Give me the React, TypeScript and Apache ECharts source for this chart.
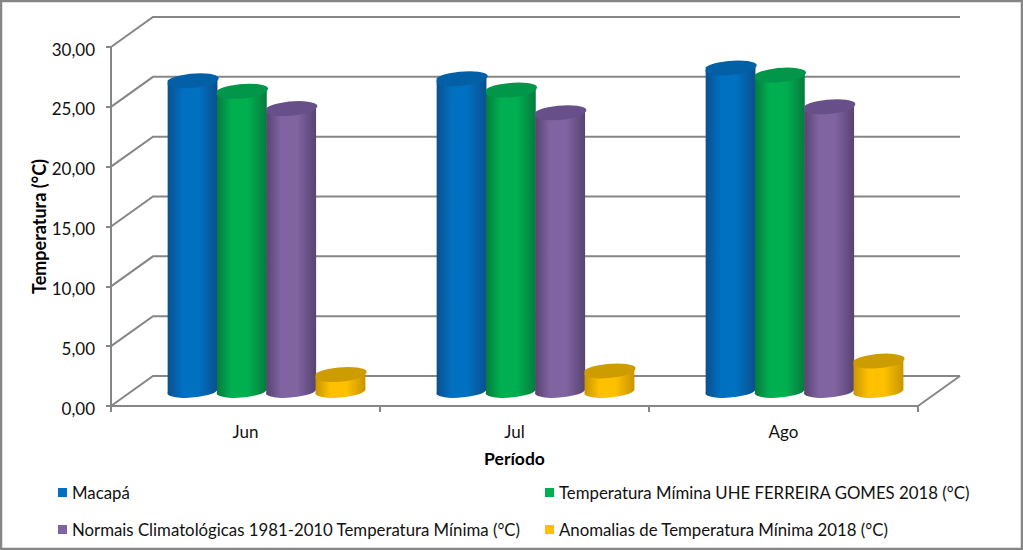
import React, { useEffect, useRef } from "react";
import * as echarts from "echarts";

const categories = ["Jun", "Jul", "Ago"];
const yTicks = [0, 5, 10, 15, 20, 25, 30];
const macapa = [25.87, 26.05, 26.95];
const ufg = [25.0, 25.1, 26.35];
const normais = [23.55, 23.2, 23.7];
const anomalias = [1.33, 1.63, 2.45];

const names = [
  "Macapá",
  "Temperatura Mímina UHE FERREIRA GOMES 2018 (°C)",
  "Normais Climatológicas 1981-2010 Temperatura Mínima (°C)",
  "Anomalias de Temperatura Mínima 2018 (°C)",
];
const seriesValues = [macapa, ufg, normais, anomalias];
const legendColors = ["#0070C0", "#00B050", "#8064A2", "#FFC000"];
const edgeColors = ["#0B4F8F", "#067A3E", "#574371", "#C79500"];
const topColors = ["#0460A6", "#01964A", "#67508A", "#CC9C00"];
const legendPos = [
  { left: 58, top: 484 },
  { left: 545, top: 484 },
  { left: 58, top: 521 },
  { left: 545, top: 521 },
];

const FONT = "Lato, 'Open Sans', sans-serif";
const GRID = "#868686";
const DX = 42, DY = 30;
const BAR_DY = 16;
const RX = 25, RY = 6.4, TILT = 5;
const STEP = 49.3;

function cylinder(i: number) {
  return (params: any, api: any) => {
    const cat = api.value(0);
    const val = api.value(1);
    const p = api.coord([cat, val]);
    const p0 = api.coord([cat, 0]);
    const cx = p[0] + DX / 2 + (i - 1.5) * STEP;
    const ty = p[1] - BAR_DY;
    const by = p0[1] - BAR_DY;
    const a = (TILT * Math.PI) / 180;
    const ex = RX * Math.cos(a), ey = RX * Math.sin(a);
    const arc = `A ${RX} ${RY} ${-TILT}`;
    const body = `M ${cx - ex} ${ty + ey} L ${cx - ex} ${by + ey} ${arc} 0 0 ${cx + ex} ${by - ey} L ${cx + ex} ${ty - ey} Z`;
    const top = `M ${cx - ex} ${ty + ey} ${arc} 0 0 ${cx + ex} ${ty - ey} ${arc} 0 0 ${cx - ex} ${ty + ey} Z`;
    const grad = new echarts.graphic.LinearGradient(0, 0, 1, 0, [
      { offset: 0, color: edgeColors[i] },
      { offset: 0.3, color: legendColors[i] },
      { offset: 0.62, color: legendColors[i] },
      { offset: 1, color: edgeColors[i] },
    ]);
    return {
      type: "group",
      children: [
        { type: "path", shape: { pathData: body }, style: { fill: grad } },
        { type: "path", shape: { pathData: top }, style: { fill: topColors[i] } },
      ],
    };
  };
}

function frame(params: any, api: any) {
  const v = api.value(1);
  const y = api.coord([0, v])[1];
  const cs = params.coordSys;
  const left = cs.x, right = cs.x + cs.width;
  const children: any[] = [
    {
      type: "polyline",
      shape: { points: [[left, y], [left + DX, y - DY], [right + DX, y - DY]] },
      style: { fill: "none", stroke: GRID, lineWidth: 2 },
    },
  ];
  if (v === 0) {
    children.push({
      type: "line",
      shape: { x1: right, y1: y, x2: right + DX, y2: y - DY },
      style: { stroke: GRID, lineWidth: 2 },
    });
  }
  return { type: "group", children };
}

export default function App() {
  const ref = useRef<HTMLDivElement>(null);
  useEffect(() => {
    document.body.style.margin = "0";
    const chart = echarts.init(ref.current!, undefined, { renderer: "svg" });
    chart.setOption({
      animation: false,
      backgroundColor: "#fff",
      grid: { left: 111, top: 47, width: 807, height: 359 },
      graphic: [
        {
          type: "rect",
          shape: { x: 1, y: 1, width: 1021, height: 548 },
          style: { fill: "none", stroke: GRID, lineWidth: 2.5 },
          silent: true,
        },
      ],
      xAxis: {
        type: "category",
        data: categories,
        name: "Período",
        nameLocation: "middle",
        nameGap: 43,
        nameMoveOverlap: false,
        nameTextStyle: { fontFamily: FONT, fontSize: 17.5, fontWeight: "bold", color: "#000" },
        axisLine: { lineStyle: { color: GRID, width: 2 } },
        axisTick: { show: true, length: 6, lineStyle: { color: GRID, width: 2 } },
        axisLabel: { fontFamily: FONT, fontSize: 17, color: "#111", margin: 17 },
      },
      yAxis: {
        type: "value",
        min: 0,
        max: 30,
        interval: 5,
        name: "Temperatura (°C)",
        nameLocation: "middle",
        nameGap: 63,
        nameMoveOverlap: false,
        nameTextStyle: { fontFamily: FONT, fontSize: 18, fontWeight: "bold", color: "#000" },
        axisLine: { show: true, lineStyle: { color: GRID, width: 2 } },
        axisTick: { show: true, length: 5, lineStyle: { color: GRID, width: 2 } },
        splitLine: { show: false },
        axisLabel: {
          fontFamily: FONT,
          fontSize: 17,
          color: "#111",
          margin: 16,
          verticalAlign: "top",
          lineHeight: 4,
          formatter: (v: number) => v.toFixed(2).replace(".", ","),
        },
      },
      legend: names.map((n, i) => ({
        data: [n],
        ...legendPos[i],
        padding: 0,
        icon: "rect",
        itemWidth: 9,
        itemHeight: 9,
        itemGap: 6,
        selectedMode: false,
        textStyle: { fontFamily: FONT, fontSize: 16.8, color: "#111" },
      })),
      series: [
        {
          type: "custom",
          name: "frame",
          renderItem: frame,
          clip: false,
          silent: true,
          z: 1,
          encode: { x: 0, y: 1 },
          data: yTicks.map((t) => [0, t]),
        },
        ...names.map((n, i) => ({
          type: "custom",
          name: n,
          renderItem: cylinder(i),
          clip: false,
          z: 2 + i,
          itemStyle: { color: legendColors[i] },
          encode: { x: 0, y: 1 },
          data: seriesValues[i].map((v, c) => [c, v]),
        })),
      ],
    });
    return () => chart.dispose();
  }, []);
  return <div ref={ref} style={{ width: 1023, height: 550 }} />;
}
